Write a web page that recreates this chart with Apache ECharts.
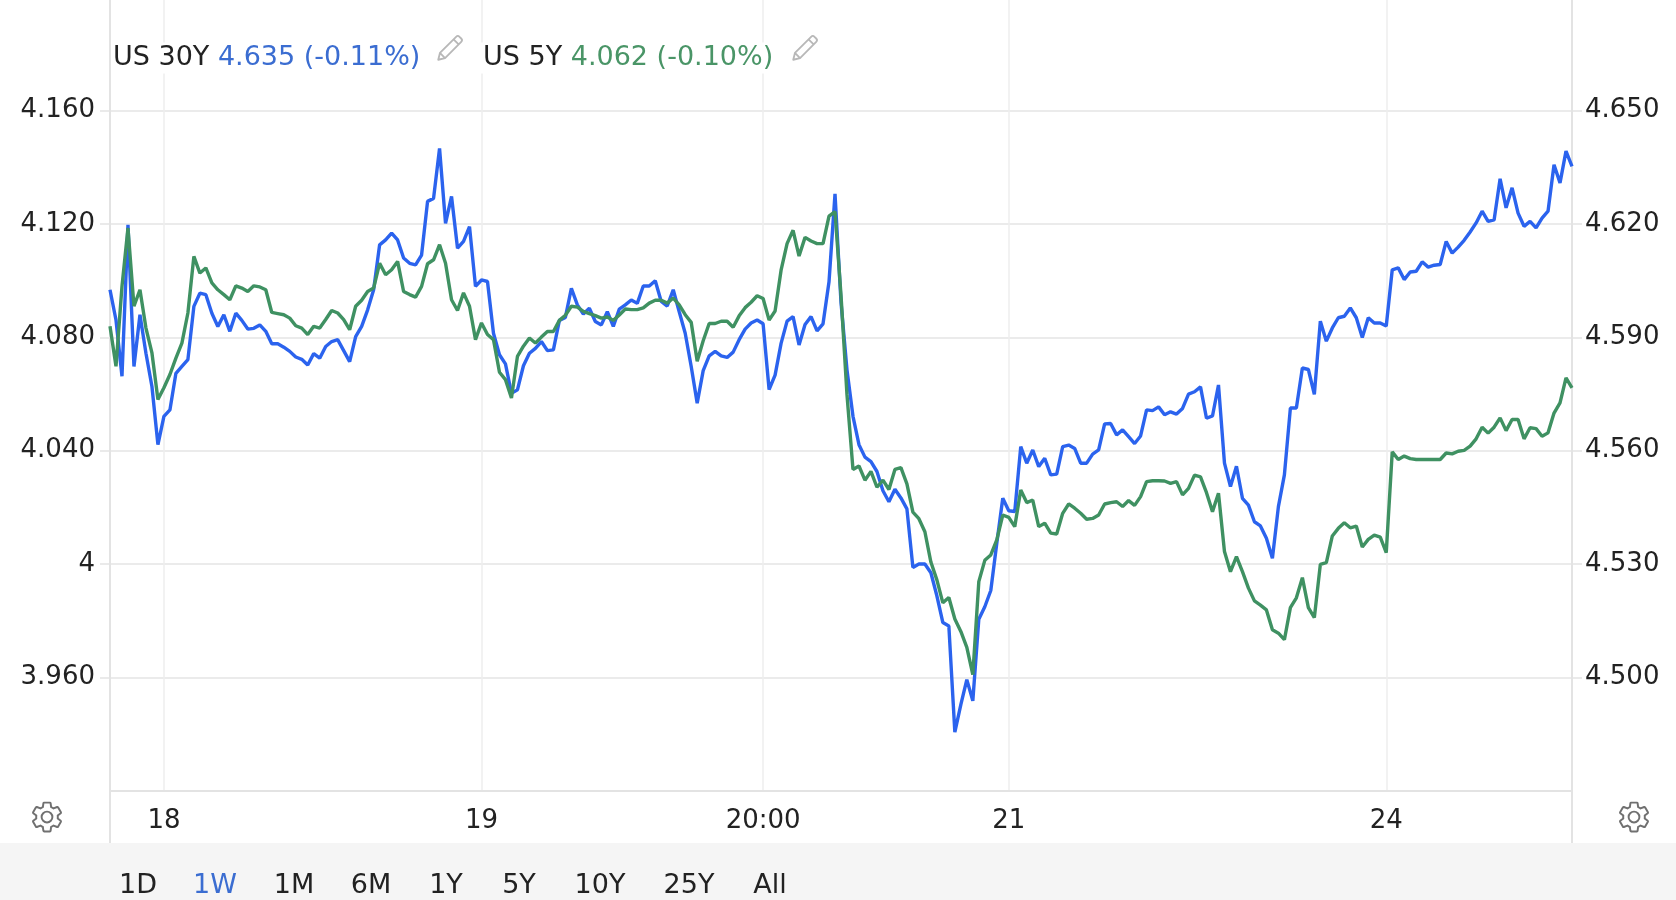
<!DOCTYPE html>
<html lang="en">
<head>
<meta charset="UTF-8">
<title>US 30Y / US 5Y - 1W</title>
<script src="https://cdn.jsdelivr.net/npm/echarts@6.0.0/dist/echarts.min.js"></script>
<style>
    html, body { margin: 0; padding: 0; background: #fff; }
    #chart { width: 1676px; height: 900px; }
</style>
</head>
<body>
<div id="chart"></div>
<script>
    // US 30Y yield (right axis), one week
    var us30y = [
        4.6026, 4.5946, 4.5797, 4.6198, 4.5823, 4.5960, 4.5858, 4.5770, 4.5616, 4.5691,
        4.5708, 4.5805, 4.5823, 4.5841, 4.5982, 4.6017, 4.6013, 4.5964, 4.5929, 4.5960,
        4.5916, 4.5964, 4.5945, 4.5922, 4.5924, 4.5933, 4.5916, 4.5883, 4.5883, 4.5874,
        4.5863, 4.5848, 4.5842, 4.5827, 4.5857, 4.5845, 4.5876, 4.5889, 4.5894, 4.5865,
        4.5836, 4.5902, 4.5929, 4.5973, 4.6026, 4.6145, 4.6158, 4.6176, 4.6158, 4.6110,
        4.6096, 4.6092, 4.6118, 4.6260, 4.6268, 4.6400, 4.6202, 4.6273, 4.6136, 4.6154,
        4.6193, 4.6035, 4.6052, 4.6048, 4.5911, 4.5854, 4.5830, 4.5752, 4.5761, 4.5825,
        4.5858, 4.5871, 4.5889, 4.5865, 4.5867, 4.5945, 4.5953, 4.6030, 4.5986, 4.5962,
        4.5977, 4.5942, 4.5933, 4.5968, 4.5929, 4.5975, 4.5986, 4.5999, 4.5990, 4.6036,
        4.6036, 4.6050, 4.5995, 4.5983, 4.6026, 4.5968, 4.5911, 4.5823, 4.5726, 4.5812,
        4.5851, 4.5863, 4.5851, 4.5847, 4.5861, 4.5894, 4.5922, 4.5938, 4.5946, 4.5936,
        4.5762, 4.5800, 4.5884, 4.5943, 4.5955, 4.5880, 4.5934, 4.5955, 4.5917, 4.5936,
        4.6047, 4.6280, 4.5993, 4.5814, 4.5691, 4.5616, 4.5583, 4.5571, 4.5545, 4.5494,
        4.5465, 4.5498, 4.5475, 4.5446, 4.5291, 4.5300, 4.5300, 4.5277, 4.5216, 4.5145,
        4.5136, 4.4855, 4.4928, 4.4994, 4.4938, 4.5154, 4.5187, 4.5230, 4.5355, 4.5474,
        4.5441, 4.5439, 4.5611, 4.5567, 4.5602, 4.5558, 4.5580, 4.5536, 4.5538, 4.5611,
        4.5615, 4.5606, 4.5567, 4.5567, 4.5591, 4.5602, 4.5671, 4.5672, 4.5642, 4.5655,
        4.5637, 4.5619, 4.5639, 4.5708, 4.5706, 4.5716, 4.5695, 4.5703, 4.5697, 4.5712,
        4.5750, 4.5756, 4.5769, 4.5686, 4.5692, 4.5774, 4.5567, 4.5505, 4.5559, 4.5474,
        4.5456, 4.5412, 4.5401, 4.5368, 4.5315, 4.5452, 4.5536, 4.5713, 4.5713, 4.5819,
        4.5815, 4.5749, 4.5943, 4.5890, 4.5925, 4.5952, 4.5956, 4.5978, 4.5952, 4.5900,
        4.5952, 4.5938, 4.5938, 4.5930, 4.6079, 4.6084, 4.6053, 4.6073, 4.6075, 4.6100,
        4.6086, 4.6091, 4.6093, 4.6154, 4.6123, 4.6139, 4.6157, 4.6179, 4.6203, 4.6234,
        4.6207, 4.6211, 4.6320, 4.6243, 4.6296, 4.6229, 4.6194, 4.6207, 4.6190, 4.6216,
        4.6234, 4.6357, 4.6309, 4.6393, 4.6353
    ];

    // US 5Y yield (left axis)
    var us5y = [
        4.0839, 4.0698, 4.0980, 4.1186, 4.0910, 4.0968, 4.0833, 4.0745, 4.0581, 4.0622,
        4.0669, 4.0727, 4.0780, 4.0886, 4.1086, 4.1027, 4.1045, 4.0992, 4.0968, 4.0951,
        4.0933, 4.0982, 4.0974, 4.0962, 4.0982, 4.0978, 4.0968, 4.0888, 4.0884, 4.0880,
        4.0868, 4.0841, 4.0833, 4.0810, 4.0839, 4.0833, 4.0863, 4.0895, 4.0886, 4.0863,
        4.0827, 4.0910, 4.0931, 4.0962, 4.0974, 4.1062, 4.1021, 4.1039, 4.1068, 4.0962,
        4.0951, 4.0942, 4.0980, 4.1060, 4.1074, 4.1127, 4.1062, 4.0933, 4.0895, 4.0957,
        4.0910, 4.0792, 4.0851, 4.0810, 4.0792, 4.0677, 4.0651, 4.0586, 4.0733, 4.0769,
        4.0798, 4.0780, 4.0801, 4.0821, 4.0821, 4.0860, 4.0878, 4.0910, 4.0907, 4.0892,
        4.0884, 4.0877, 4.0868, 4.0872, 4.0860, 4.0879, 4.0900, 4.0898, 4.0898, 4.0904,
        4.0921, 4.0931, 4.0931, 4.0921, 4.0939, 4.0915, 4.0880, 4.0853, 4.0716, 4.0788,
        4.0849, 4.0849, 4.0857, 4.0857, 4.0836, 4.0876, 4.0905, 4.0924, 4.0947, 4.0937,
        4.0861, 4.0893, 4.1037, 4.1131, 4.1178, 4.1087, 4.1153, 4.1140, 4.1131, 4.1131,
        4.1228, 4.1244, 4.0949, 4.0597, 4.0334, 4.0346, 4.0296, 4.0327, 4.0271, 4.0296,
        4.0263, 4.0334, 4.0340, 4.0283, 4.0183, 4.0160, 4.0114, 4.0007, 3.9944, 3.9863,
        3.9882, 3.9806, 3.9762, 3.9706, 3.9610, 3.9938, 4.0013, 4.0032, 4.0085, 4.0173,
        4.0165, 4.0132, 4.0261, 4.0217, 4.0226, 4.0132, 4.0144, 4.0109, 4.0106, 4.0179,
        4.0212, 4.0197, 4.0179, 4.0158, 4.0161, 4.0173, 4.0212, 4.0217, 4.0220, 4.0203,
        4.0224, 4.0207, 4.0238, 4.0291, 4.0294, 4.0294, 4.0293, 4.0285, 4.0291, 4.0244,
        4.0267, 4.0314, 4.0308, 4.0252, 4.0185, 4.0250, 4.0044, 3.9973, 4.0026, 3.9973,
        3.9915, 3.9870, 3.9855, 3.9838, 3.9768, 3.9756, 3.9733, 3.9846, 3.9881, 3.9952,
        3.9846, 3.9811, 3.9999, 4.0005, 4.0099, 4.0126, 4.0146, 4.0128, 4.0134, 4.0060,
        4.0087, 4.0102, 4.0095, 4.0040, 4.0396, 4.0369, 4.0381, 4.0372, 4.0369, 4.0369,
        4.0369, 4.0369, 4.0369, 4.0392, 4.0389, 4.0398, 4.0401, 4.0416, 4.0442, 4.0483,
        4.0462, 4.0483, 4.0516, 4.0471, 4.0510, 4.0510, 4.0442, 4.0481, 4.0478, 4.0451,
        4.0463, 4.0533, 4.0569, 4.0657, 4.0622
    ];

    var seriesNames = ['US 30Y', 'US 5Y'];
    var dayChange = ['-0.11%', '-0.10%'];
    var dayLabels = ['18', '19', '20:00', '21', '24'];
    var dayStart = [9, 62, 109, 150, 213];     // sample index where each day begins
    var rangeButtons = ['1D', '1W', '1M', '6M', '1Y', '5Y', '10Y', '25Y', 'All'];
    var activeRange = '1W';

    var categories = us30y.map(function (v, i) { return String(i); });

    var BLUE = '#2b63ee';
    var GREEN = '#3f9162';
    var FONT = 'DejaVu Sans';

    function isDayStart(index) {
        return dayStart.indexOf(index) >= 0;
    }

    function svgIcon(d, stroke, width) {
        var svg = "<svg xmlns='http://www.w3.org/2000/svg' viewBox='0 0 24 24'>" +
            "<path d='" + d + "' fill='none' stroke='" + stroke + "' stroke-width='" + width +
            "' stroke-linejoin='round'/></svg>";
        return 'data:image/svg+xml;charset=utf-8,' + encodeURIComponent(svg);
    }

    var chart = echarts.init(document.getElementById('chart'));

    var pencil = 'M3 21 L4.2 16.2 L15.6 4.8 Q16.8 3.6 18 4.8 L19.2 6 Q20.4 7.2 19.2 8.4 L7.8 19.8 Z M13.8 6.6 L17.4 10.2 M4.2 16.2 L7.8 19.8';
    var gear = 'M19.14,12.94c0.04-0.3,0.06-0.61,0.06-0.94c0-0.32-0.02-0.64-0.07-0.94l2.03-1.58c0.18-0.14,0.23-0.41,0.12-0.61l-1.92-3.32c-0.12-0.22-0.37-0.29-0.59-0.22l-2.39,0.96c-0.5-0.38-1.03-0.7-1.62-0.94L14.4,2.81c-0.04-0.24-0.24-0.41-0.48-0.41h-3.84c-0.24,0-0.43,0.17-0.47,0.41L9.25,5.35C8.66,5.59,8.12,5.92,7.63,6.29L5.24,5.33c-0.22-0.08-0.47,0-0.59,0.22L2.74,8.87C2.62,9.08,2.66,9.34,2.86,9.48l2.03,1.58C4.84,11.36,4.8,11.69,4.8,12s0.02,0.64,0.07,0.94l-2.03,1.58c-0.18,0.14-0.23,0.41-0.12,0.61l1.92,3.32c0.12,0.22,0.37,0.29,0.59,0.22l2.39-0.96c0.5,0.38,1.03,0.7,1.62,0.94l0.36,2.54c0.05,0.24,0.24,0.41,0.48,0.41h3.84c0.24,0,0.44-0.17,0.47-0.41l0.36-2.54c0.59-0.24,1.13-0.56,1.62-0.94l2.39,0.96c0.22,0.08,0.47,0,0.59-0.22l1.92-3.32c0.12-0.22,0.07-0.47-0.12-0.61L19.14,12.94z M12,15.6c-1.98,0-3.6-1.62-3.6-3.6s1.62-3.6,3.6-3.6s3.6,1.62,3.6,3.6S13.98,15.6,12,15.6z';

    var lastValues = [us30y[us30y.length - 1], us5y[us5y.length - 1]];
    var legendColors = ['#3b6dd1', '#4a9567'];
    var legendX = [111, 481];
    var pencilX = [434, 789];

    var graphics = [];

    // bottom band with the range buttons
    graphics.push({
        type: 'rect', silent: true, z: 0,
        shape: { x: 0, y: 843, width: 1676, height: 57 },
        style: { fill: '#f5f5f5' }
    });
    // axis lines continue down to the band
    [110, 1572].forEach(function (x) {
        graphics.push({
            type: 'line', silent: true,
            shape: { x1: x, y1: 790, x2: x, y2: 843 },
            style: { stroke: '#e3e3e3', lineWidth: 2 }
        });
    });

    seriesNames.forEach(function (name, i) {
        graphics.push({
            type: 'text', silent: true, z: 100,
            x: legendX[i], y: 58,
            style: {
                text: '{n|' + name + '} {v|' + lastValues[i].toFixed(3) + ' (' + dayChange[i] + ')}',
                font: '27px "' + FONT + '"',
                fill: '#222',
                align: 'left', verticalAlign: 'middle',
                backgroundColor: '#fff',
                padding: [2, 2],
                rich: {
                    n: { fill: '#222', fontSize: 27, fontFamily: FONT },
                    v: { fill: legendColors[i], fontSize: 27, fontFamily: FONT }
                }
            }
        });
        graphics.push({
            type: 'image', silent: true, z: 100,
            style: { image: svgIcon(pencil, '#b8b8b8', 1.3), x: pencilX[i], y: 30, width: 34, height: 34 }
        });
    });

    [47, 1634].forEach(function (cx) {
        graphics.push({
            type: 'image', silent: true,
            style: { image: svgIcon(gear, '#707070', 1.3), x: cx - 18, y: 799, width: 36, height: 36 }
        });
    });

    var rangeX = [138, 215, 294, 371, 446, 519, 600, 689, 770];
    rangeButtons.forEach(function (label, i) {
        graphics.push({
            type: 'text', silent: true,
            x: rangeX[i], y: 886,
            style: {
                text: label,
                font: '27px "' + FONT + '"',
                fill: label === activeRange ? '#3b6dd1' : '#222',
                align: 'center', verticalAlign: 'middle'
            }
        });
    });

    var option = {
        animation: false,
        backgroundColor: '#fff',
        textStyle: { fontFamily: FONT },
        grid: {
            left: 110, right: 104, top: -2.6, bottom: 109.3,
            containLabel: false, outerBoundsMode: 'none'
        },
        xAxis: {
            type: 'category',
            boundaryGap: false,
            data: categories,
            axisLine: { show: true, lineStyle: { color: '#e3e3e3', width: 2 } },
            axisTick: { show: false },
            axisLabel: {
                interval: function (index) { return isDayStart(index); },
                formatter: function (value, index) {
                    var k = dayStart.indexOf(index);
                    return k >= 0 ? dayLabels[k] : '';
                },
                color: '#222', fontSize: 26, fontFamily: FONT, margin: 18
            },
            splitLine: {
                show: true,
                interval: function (index) { return isDayStart(index); },
                lineStyle: { color: '#eeeeee', width: 1.5 }
            }
        },
        yAxis: [
            {
                type: 'value', position: 'left',
                min: 3.92, max: 4.2, interval: 0.04,
                axisLine: { show: true, lineStyle: { color: '#e3e3e3', width: 2 } },
                axisTick: { show: true, length: 10, lineStyle: { color: '#e4e4e4', width: 1.5 } },
                axisLabel: {
                    showMinLabel: false, showMaxLabel: false,
                    color: '#222', fontSize: 26, fontFamily: FONT, margin: 15,
                    formatter: function (v) {
                        return Math.abs(v - 4) < 1e-6 ? '4' : v.toFixed(3);
                    }
                },
                splitLine: { show: true, lineStyle: { color: '#e4e4e4', width: 1.5 } }
            },
            {
                type: 'value', position: 'right',
                min: 4.47, max: 4.68, interval: 0.03,
                axisLine: { show: true, lineStyle: { color: '#e3e3e3', width: 2 } },
                axisTick: { show: true, length: 10, lineStyle: { color: '#e4e4e4', width: 1.5 } },
                axisLabel: {
                    showMinLabel: false, showMaxLabel: false,
                    color: '#222', fontSize: 26, fontFamily: FONT, margin: 13,
                    formatter: function (v) { return v.toFixed(3); }
                },
                splitLine: { show: false }
            }
        ],
        series: [
            {
                name: seriesNames[0],
                type: 'line',
                yAxisIndex: 1,
                data: us30y,
                symbol: 'none',
                lineStyle: { color: BLUE, width: 3.4 },
                itemStyle: { color: BLUE }
            },
            {
                name: seriesNames[1],
                type: 'line',
                yAxisIndex: 0,
                data: us5y,
                symbol: 'none',
                lineStyle: { color: GREEN, width: 3.4 },
                itemStyle: { color: GREEN }
            }
        ],
        graphic: graphics
    };

    chart.setOption(option);
</script>
</body>
</html>
